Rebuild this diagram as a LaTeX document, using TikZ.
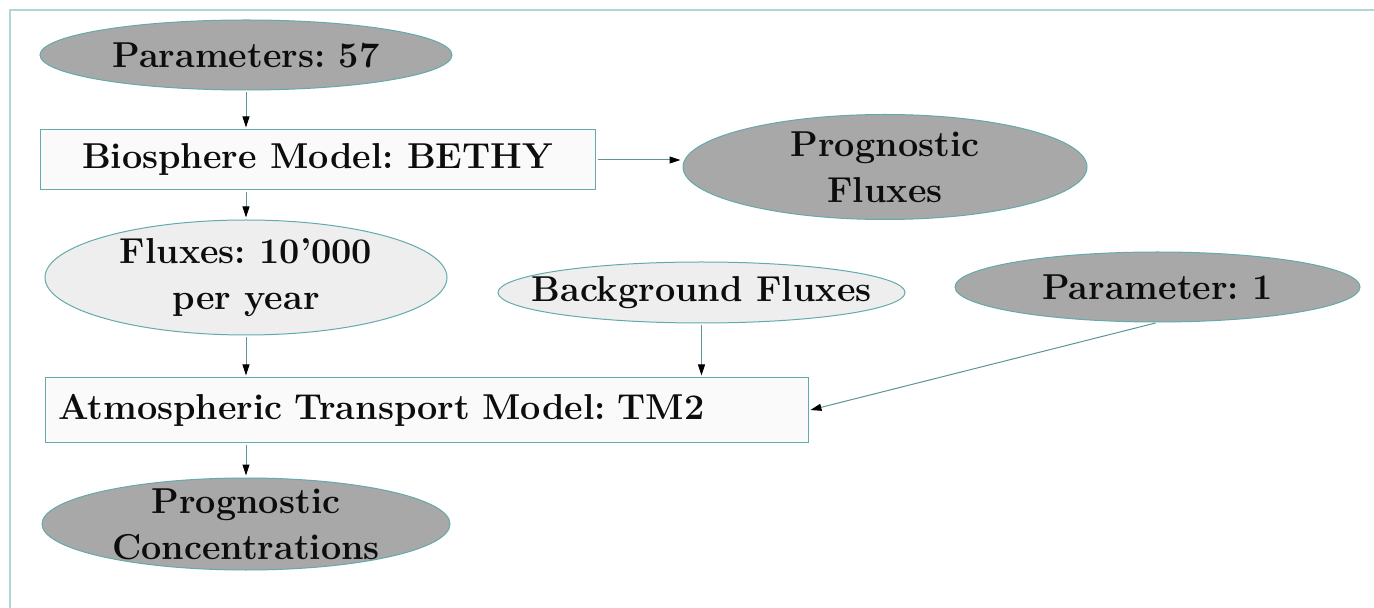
\documentclass[tikz,border=0pt]{standalone}
\usetikzlibrary{shapes.geometric,arrows.meta}
\definecolor{edgec}{RGB}{100,170,170}
\definecolor{linec}{RGB}{90,150,150}
\definecolor{darkfill}{RGB}{168,168,168}
\definecolor{lightfill}{RGB}{238,238,238}
\definecolor{boxfill}{RGB}{250,250,250}
\definecolor{framec}{RGB}{175,215,215}
\begin{document}
\frenchspacing
\begin{tikzpicture}[x=0.5pt,y=-0.5pt,
  every node/.style={font=\fontsize{18}{23}\selectfont\bfseries, text=black!95},
  darkell/.style={ellipse, draw=edgec, fill=darkfill, line width=0.5pt, inner xsep=-15pt, inner ysep=-6pt},
  lightell/.style={ellipse, draw=edgec, fill=lightfill, line width=0.5pt, inner xsep=-15pt, inner ysep=-6pt},
  boxnode/.style={rectangle, draw=edgec, fill=boxfill, line width=0.5pt, inner sep=0pt},
  conn/.style={draw=linec, line width=0.5pt, -{Triangle[length=5.5pt,width=3.5pt,color=black]}, shorten >=1pt, shorten <=1pt}]
\fill[white] (0,0) rectangle (1374,608);
\useasboundingbox (0,0) rectangle (1374,608);
\draw[framec, line width=1pt] (10,608) -- (10,10) -- (1374,10);

\node[darkell, minimum width=206pt, minimum height=35pt] (p57) at (246,55) {Parameters: 57};
\node[boxnode, minimum width=277.5pt, minimum height=30pt] (bethy) at (317.5,160) {Biosphere Model: BETHY};
\node[darkell, minimum width=202pt, minimum height=52.5pt, align=center] (pf) at (885,167) {Prognostic\\Fluxes};
\node[lightell, minimum width=201pt, minimum height=57.5pt, align=center] (fl) at (246,277.5) {Fluxes: 10'000\\per year};
\node[lightell, minimum width=203.5pt, minimum height=30.5pt] (bg) at (701.5,292.5) {Background Fluxes};
\node[darkell, minimum width=202.5pt, minimum height=35pt] (p1) at (1157.5,287) {Parameter: 1};
\node[boxnode, minimum width=381.5pt, minimum height=32.5pt, text width=368.5pt, inner xsep=6.5pt, align=left] (atm) at (426.5,410.5) {Atmospheric Transport Model: TM2};
\node[darkell, minimum width=204pt, minimum height=46pt, align=center] (pc) at (246,524) {Prognostic\\Concentrations};

\draw[conn] (p57.south) -- (p57.south |- bethy.north);
\draw[conn] (bethy.east) -- (pf.west |- bethy.east);
\draw[conn] (p57.south |- bethy.south) -- (fl.north);
\draw[conn] (fl.south) -- (fl.south |- atm.north);
\draw[conn] (bg.south) -- (bg.south |- atm.north);
\draw[conn] (p1.south) -- (atm.east);
\draw[conn] (atm.south -| pc.north) -- (pc.north);
\end{tikzpicture}
\end{document}
